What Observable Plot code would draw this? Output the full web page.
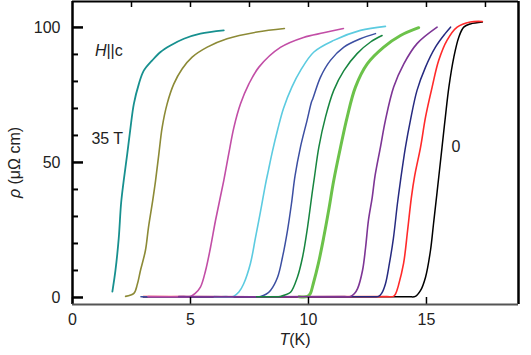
<!DOCTYPE html>
<html><head><meta charset="utf-8">
<script src="https://cdn.jsdelivr.net/npm/d3@7"></script>
<script src="https://cdn.jsdelivr.net/npm/@observablehq/plot@0.6"></script>
<style>
body{margin:0;background:#fff}
svg{font-family:"Liberation Sans",Arial,sans-serif}
</style>
</head><body><div id="chart"></div>
<script>
// Resistivity rho (µΩ cm) vs temperature T (K), field H || c, from 35 T (left) to 0 T (right)
const teal35T = [[1.69,2.2],[1.82,10],[1.96,22],[2.06,35],[2.17,43.3],[2.32,53.2],[2.46,63],[2.6,71.7],[2.81,79],[3.02,84],[3.38,87.8],[3.73,90.9],[4.15,93.3],[4.72,95.8],[5.42,97.7],[6.41,98.9]];
const olive = [[2.25,0.4],[2.6,1.5],[2.75,5],[2.88,10],[3.09,17.4],[3.22,26],[3.4,36],[3.52,43.3],[3.66,53.2],[3.8,63],[4.01,71.7],[4.29,79],[4.65,84.7],[5.07,89],[5.71,92.7],[6.55,95.8],[7.82,98.3],[8.98,99.6]];
const magenta = [[3.2,0.3],[4.7,0.3],[5.0,0.4],[5.2,1.5],[5.42,3.8],[5.64,10],[5.85,18.6],[6.06,28.5],[6.41,43.3],[6.62,53.2],[6.84,63],[7.12,71.7],[7.47,79],[7.9,85.3],[8.81,92.6],[9.79,96.3],[10.64,98],[11.48,99.6]];
const cyan = [[6.0,0.3],[6.5,0.3],[6.82,0.4],[7.05,2],[7.25,5],[7.54,12.6],[7.75,22],[7.97,32],[8.18,42],[8.3,47],[8.47,54],[8.69,62],[8.94,70],[9.3,78],[9.66,84],[10.23,90.9],[11.07,95.2],[12.2,98.9],[13.26,100.4]];
const slateBlue = [[2.9,0.3],[7.7,0.3],[7.97,0.4],[8.2,1.2],[8.39,2.6],[8.69,7.5],[8.9,15],[9.11,24.8],[9.28,34.8],[9.43,45],[9.66,55.7],[9.94,65.6],[10.13,72.5],[10.18,73.5],[10.51,81.6],[10.93,87.8],[11.5,92.7],[12.2,95.8],[12.84,97.7]];
const darkGreen = [[7.8,0.3],[8.5,0.3],[8.81,0.4],[9.0,0.9],[9.24,1.9],[9.53,7.5],[9.75,15],[9.96,26],[10.17,39.6],[10.25,44.4],[10.44,55.7],[10.72,66.8],[11.07,76.7],[11.5,84],[12.06,90.3],[12.63,94.6],[13.12,97]];
const lightGreen = [[9.6,0.3],[9.96,0.4],[10.08,1.5],[10.2,5],[10.42,12.6],[10.64,22],[10.85,32],[11.07,43.3],[11.36,55.7],[11.64,66.8],[11.99,77.9],[12.49,86.5],[13.19,92.7],[13.9,97],[14.67,99.9]];
const purple = [[4.5,0.3],[11.5,0.3],[11.78,0.4],[11.95,1.5],[12.08,3.3],[12.29,10],[12.42,18.5],[12.54,28.5],[12.7,37],[12.82,45],[13.05,55.7],[13.26,65.6],[13.61,77.9],[14.04,86.5],[14.6,94],[15.45,100.1]];
const navy = [[3.0,0.3],[12.7,0.3],[12.97,0.4],[13.1,1.5],[13.26,5],[13.43,12.6],[13.6,22],[13.77,34.8],[13.9,43.3],[14.11,55.7],[14.32,65.6],[14.6,76.7],[14.96,85.3],[15.38,92.7],[15.8,97.8],[16.02,100.1]];
const red = [[3.0,0.3],[13.3,0.3],[13.6,0.4],[13.7,1.5],[13.81,4.4],[14.03,12.6],[14.2,24.8],[14.36,37],[14.5,45],[14.75,55.7],[14.96,66.8],[15.24,77.9],[15.52,87.8],[15.87,95.2],[16.3,100.1],[16.86,102],[17.37,102.2]];
const black0T = [[3.0,0.3],[14.2,0.3],[14.53,0.4],[14.75,2.6],[14.96,7.5],[15.17,17.4],[15.3,27.4],[15.45,39],[15.66,55.7],[15.8,66.8],[15.95,77.9],[16.16,89],[16.37,96.4],[16.58,100.1],[16.86,101.3],[17.37,102]];

const xTicks = [0, 5, 10, 15];
const xTopTicks = [2.5, 5, 7.5, 10, 12.5, 15, 17.5];
const yTicks = [0, 50, 100];
const yMinorTicks = [10, 20, 30, 40, 60, 70, 80, 90];
const xDomain = [0, 18.9];
const yDomain = [-2.6, 109.6];
const notes = [{text: "35 T", T: 0.8, rho: 57}, {text: "0", T: 16.06, rho: 54}];
const noteH = {T: 0.97, rho: 89.3};

// drawing order (later on top)
const curves = [
  {pts: black0T, color: "#000000", w: 1.5},
  {pts: red, color: "#ff2a2a", w: 1.6},
  {pts: navy, color: "#262a80", w: 1.5},
  {pts: slateBlue, color: "#3c4fa2", w: 1.5},
  {pts: cyan, color: "#5ccbe0", w: 1.6},
  {pts: lightGreen, color: "#6cc24a", w: 3},
  {pts: magenta, color: "#c24ea6", w: 1.6},
  {pts: purple, color: "#7d3595", w: 1.6},
  {pts: darkGreen, color: "#17853f", w: 1.5},
  {pts: olive, color: "#8c8a36", w: 1.6},
  {pts: teal35T, color: "#17908f", w: 1.8}
];

const W = 531, H = 355;
const mL = 72, mR = 13, mT = 1, mB = 51;
const fw = W - mL - mR, fh = H - mT - mB;

const plot = Plot.plot({
  width: W, height: H,
  marginLeft: mL, marginRight: mR, marginTop: mT, marginBottom: mB,
  x: {domain: xDomain, label: null},
  y: {domain: yDomain, label: null},
  style: {fontSize: "16px", color: "#222", background: "#fff", overflow: "visible"},
  marks: [
    ...curves.map(c => Plot.line(c.pts, {x: d => d[0], y: d => d[1], stroke: c.color, strokeWidth: c.w, curve: "catmull-rom"})),
    Plot.tickY(yTicks, {y: d => d, insetRight: fw - 11, stroke: "#000", strokeWidth: 2.5}),
    Plot.tickY(yMinorTicks, {y: d => d, insetRight: fw - 6, stroke: "#000", strokeWidth: 2}),
    Plot.tickX(xTicks, {x: d => d, insetTop: fh - 7, stroke: "#000", strokeWidth: 1.5}),
    Plot.tickX(xTopTicks, {x: d => d, insetBottom: fh - 6, stroke: "#000", strokeWidth: 1.5}),
    Plot.ruleX([xDomain[0]], {stroke: "#000", strokeWidth: 2.5}),
    Plot.ruleX([xDomain[1]], {stroke: "#000", strokeWidth: 2.5}),
    Plot.ruleY([yDomain[1]], {stroke: "#000", strokeWidth: 2}),
    Plot.ruleY([yDomain[0]], {stroke: "#555", strokeWidth: 2}),
    Plot.axisY(yTicks, {tickSize: 0, tickPadding: 12, fontSize: 16, label: null}),
    Plot.axisX(xTicks, {tickSize: 0, tickPadding: 9, fontSize: 16, label: null, anchor: "bottom"}),
    Plot.text(notes, {x: "T", y: "rho", text: "text", textAnchor: "start", lineAnchor: "bottom", fontSize: 16, fill: "#222"})
  ]
});
document.getElementById("chart").appendChild(plot);

const svg = d3.select(plot);
const xs = plot.scale("x"), ys = plot.scale("y");
// H||c annotation
const th = svg.append("text").attr("x", xs.apply(noteH.T)).attr("y", ys.apply(noteH.rho))
  .attr("text-anchor", "start").attr("font-size", 16).attr("fill", "#222");
th.append("tspan").attr("font-style", "italic").text("H");
th.append("tspan").text("||c");
// x axis label
const tx = svg.append("text").attr("x", mL + fw / 2).attr("y", H - 10)
  .attr("text-anchor", "middle").attr("font-size", 16).attr("fill", "#222");
tx.append("tspan").attr("font-style", "italic").text("T");
tx.append("tspan").text("(K)");
// y axis label
const ty = svg.append("text").attr("transform", `translate(20,${mT + fh / 2 + 10}) rotate(-90)`)
  .attr("text-anchor", "middle").attr("font-size", 16).attr("fill", "#222");
ty.append("tspan").attr("font-style", "italic").text("ρ");
ty.append("tspan").text(" (μΩ cm)");
</script>
</body></html>
